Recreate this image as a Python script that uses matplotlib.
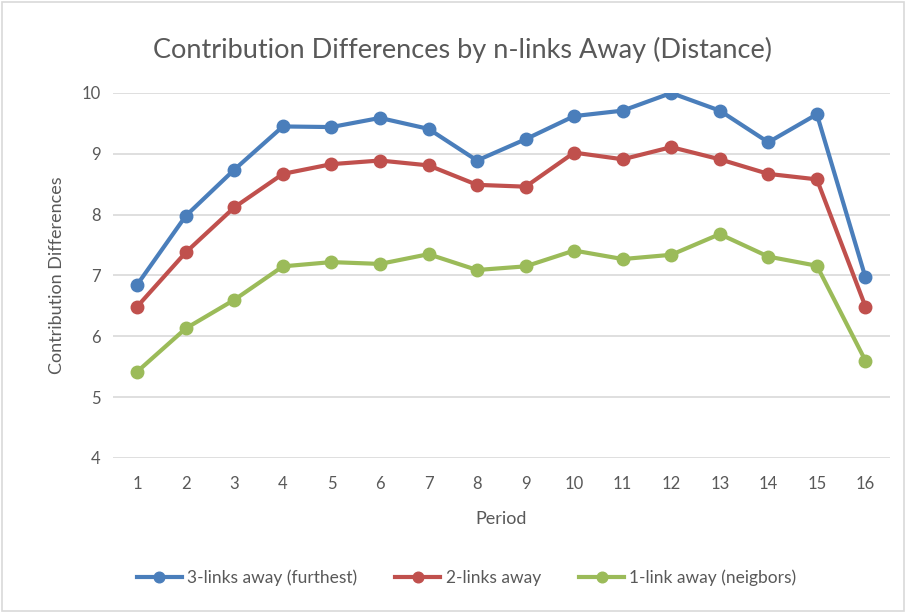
import matplotlib
matplotlib.use("Agg")
import matplotlib.pyplot as plt
from matplotlib.patches import Rectangle

# Data
periods = list(range(1, 17))
three_links = [6.85, 7.98, 8.74, 9.45, 9.44, 9.59, 9.41, 8.89,
               9.24, 9.62, 9.71, 10.0, 9.71, 9.19, 9.65, 6.97]
two_links = [6.49, 7.38, 8.12, 8.67, 8.83, 8.89, 8.81, 8.49,
             8.46, 9.02, 8.91, 9.11, 8.91, 8.67, 8.58, 6.49]
one_link = [5.42, 6.13, 6.60, 7.15, 7.22, 7.19, 7.35, 7.09,
            7.15, 7.41, 7.27, 7.34, 7.68, 7.31, 7.16, 5.60]
series_labels = ["3-links away (furthest)", "2-links away", "1-link away (neigbors)"]
y_ticks = [4, 5, 6, 7, 8, 9, 10]

plt.rcParams['font.family'] = ['Lato', 'DejaVu Sans']
text_color = '#595959'

fig = plt.figure(figsize=(9.06, 6.13), dpi=100)
ax = fig.add_axes([0.1247, 0.2529, 0.8573, 0.5954])

colors = ['#4A7EBB', '#C0504D', '#9BBB59']
for vals, lab, c in zip([three_links, two_links, one_link], series_labels, colors):
    ax.plot(periods, vals, '-o', color=c, lw=3, markersize=9, label=lab)

ax.set_xlim(0.5, 16.5)
ax.set_ylim(4, 10)
ax.set_xticks(periods)
ax.set_yticks(y_ticks)
ax.grid(axis='y', color='#D9D9D9', lw=1.2)
ax.set_axisbelow(True)
for s in ax.spines.values():
    s.set_visible(False)
ax.tick_params(length=0, labelsize=12, colors=text_color, pad=13)
ax.tick_params(axis='y', pad=9)

ax.set_xlabel('Period', fontsize=13, color=text_color, labelpad=14)
ax.set_ylabel('Contribution Differences', fontsize=13, color=text_color, labelpad=12)
fig.suptitle('Contribution Differences by n-links Away (Distance)',
             x=0.51, y=0.94, fontsize=19.5, color=text_color)

fig.legend(loc='center', bbox_to_anchor=(0.515, 0.057), ncol=3, frameon=False,
           fontsize=12.5, labelcolor=text_color, handlelength=2.6, columnspacing=2.2,
           handletextpad=0.3, markerscale=0.85)

fig.patches.append(Rectangle((0.002, 0.003), 0.996, 0.994, transform=fig.transFigure,
                             fill=False, edgecolor='#D9D9D9', lw=1.2))

fig.savefig('out.png', dpi=100)
